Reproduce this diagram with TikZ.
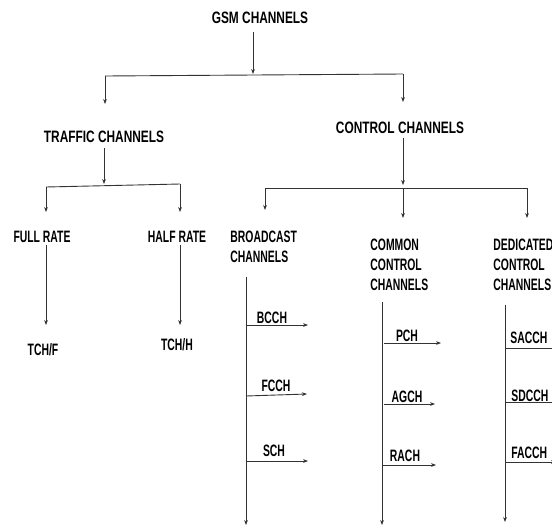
\documentclass[tikz,border=0pt]{standalone}
\usepackage{fontspec}
\setmainfont{Liberation Sans}
\newfontfamily\wideft{Liberation Sans}[FakeStretch=0.72]
\newfontfamily\narrowft{Liberation Sans}[FakeStretch=0.63]
\usetikzlibrary{arrows.meta}

\begin{document}
\begin{tikzpicture}[x=1pt,y=-1pt,line width=0.9pt,draw=black!80,
  head/.style={font=\fontsize{16.5}{20}\selectfont\wideft\bfseries,inner sep=0pt},
  lab/.style={font=\fontsize{16.5}{20}\selectfont\narrowft\bfseries,inner sep=0pt,align=left},
  arr/.style={-{Stealth[length=5pt,width=3.8pt]}}]
  \useasboundingbox (0,0) rectangle (552,528);
  \clip (0,0) rectangle (552,528);

  \node[head] (G) at (260,18) {GSM CHANNELS};
  \node[head] (T) at (104,137) {TRAFFIC CHANNELS};
  \node[head] (C) at (400,128) {CONTROL CHANNELS};

  \draw[arr] (253,32) coordinate (g0) -- (253,74) coordinate (g1);
  \draw (105,76) coordinate (b1) -- (403,74) coordinate (b2);
  \draw[arr] (b1) -- (105,104) coordinate (t0);
  \draw[arr] (b2) -- (403,102) coordinate (c0);

  \node[lab] (FR) at (42,237) {FULL RATE};
  \node[lab] (HR) at (177,237) {HALF RATE};
  \node[lab] (TF) at (43,350) {TCH/F};
  \node[lab] (TH) at (177,345) {TCH/H};

  \draw[arr] (104,148) coordinate (t1) -- (104,184) coordinate (t2);
  \draw (46,187) coordinate (tb1) -- (180,184) coordinate (tb2);
  \draw[arr] (tb1) -- (46,212) coordinate (f0);
  \draw[arr] (tb2) -- (180,212) coordinate (h0);
  \draw[arr] (46,245) coordinate (f1) -- (46,325) coordinate (f2);
  \draw[arr] (180,245) coordinate (h1) -- (180,325) coordinate (h2);

  \node[lab,anchor=west] (BC) at (230,247) {BROADCAST\\CHANNELS};
  \node[lab,anchor=west] (CC) at (370,265) {COMMON\\CONTROL\\CHANNELS};
  \node[lab,anchor=west] (DC) at (493,265) {DEDICATED\\CONTROL\\CHANNELS};

  \draw[arr] (403,138) coordinate (c1) -- (403,185) coordinate (c2);
  \draw (265,188) coordinate (cb1) -- (527,188) coordinate (cb3);
  \coordinate (cb2) at (403,188);
  \draw[arr] (cb1) -- (265,210) coordinate (bc0);
  \draw[arr] (cb2) -- (403,218) coordinate (cc0);
  \draw[arr] (cb3) -- (527,218) coordinate (dc0);

  \draw[arr] (246,277) coordinate (B0) -- (246,525) coordinate (B9);
  \draw[arr] (382,302) coordinate (M0) -- (382,525) coordinate (M9);
  \draw[arr] (505,305) coordinate (D0) -- (505,522) coordinate (D9);

  \node[lab] (BCCH) at (272,318) {BCCH};
  \node[lab] (FCCH) at (276,386) {FCCH};
  \node[lab] (SCH) at (274,451) {SCH};
  \draw[arr] (246,325) coordinate (B1) -- (308,325) coordinate (B1e);
  \draw[arr] (246,396) coordinate (B2) -- (307,394) coordinate (B2e);
  \draw[arr] (246,461) coordinate (B3) -- (308,461) coordinate (B3e);

  \node[lab] (PCH) at (407,336) {PCH};
  \node[lab] (AGCH) at (407,397) {AGCH};
  \node[lab] (RACH) at (405,456) {RACH};
  \draw[arr] (384,343) coordinate (M1) -- (441,343) coordinate (M1e);
  \draw[arr] (384,404) coordinate (M2) -- (435,404) coordinate (M2e);
  \draw[arr] (382,465) coordinate (M3) -- (436,465) coordinate (M3e);

  \node[lab,anchor=west] (SACCH) at (510,338) {SACCH};
  \node[lab,anchor=west] (SDCCH) at (511,396) {SDCCH};
  \node[lab,anchor=west] (FACCH) at (511,453) {FACCH};
  \draw[arr] (505,348) coordinate (D1) -- (560,348) coordinate (D1e);
  \draw[arr] (505,402) coordinate (D2) -- (560,402) coordinate (D2e);
  \draw[arr] (505,462) coordinate (D3) -- (556,462) coordinate (D3e);
\end{tikzpicture}
\end{document}
